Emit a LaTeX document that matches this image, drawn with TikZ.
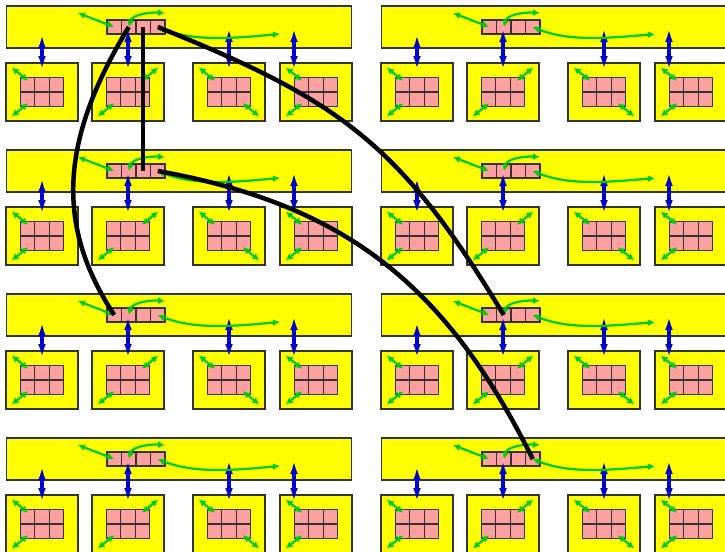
\documentclass[tikz,border=0pt]{standalone}
\usetikzlibrary{arrows.meta,calc,math}
\definecolor{myyellow}{RGB}{255,255,0}
\definecolor{mypink}{RGB}{255,160,160}
\definecolor{mygreen}{RGB}{0,205,0}
\definecolor{myblue}{RGB}{0,0,205}
\tikzset{
  bus/.style={draw=black!80, line width=0.6pt, fill=myyellow, inner sep=0pt,
    minimum width=6.92cm, minimum height=0.84cm},
  board/.style={draw=black!80, line width=0.6pt, fill=myyellow, inner sep=0pt,
    minimum width=1.44cm, minimum height=1.16cm},
  cell/.style={draw=black!80, line width=0.6pt, fill=mypink, inner sep=0pt,
    minimum width=0.29cm, minimum height=0.28cm},
  vlink/.style={myblue, line width=0.09cm,
    {Latex[length=0.3cm,width=0.15cm]}-{Latex[length=0.3cm,width=0.15cm]}},
  glink/.style={mygreen, line width=0.045cm,
    {Latex[length=0.14cm,width=0.14cm]}-{Latex[length=0.14cm,width=0.14cm]}},
  net/.style={black, line width=0.09cm},
}

\begin{document}
\begin{tikzpicture}[x=0.02cm,y=-0.02cm]
\tikzmath{
\dx=375;
\dy=144;
}
\useasboundingbox (0,0) rectangle (725,552);

\foreach \r in {0,...,3}{
\foreach \c in {0,1}{
\begin{scope}[shift={(\dx*\c,\dy*\r)}]
\node[bus] (m\r\c) at (179,27) {};
\foreach \k in {1,...,4}
  \node[cell] (s\r\c-\k) at (99.75+14.5*\k,27) {};
\foreach \j/\x in {1/42,2/128,3/229,4/316}{
  \node[board] (b\r\c-\j) at (\x,92) {};
  \draw[cell] (\x-21.75,77.5) rectangle (\x+21.75,106.5);
  \draw[black!80, line width=0.6pt] (\x-7.25,77.5) -- ++(0,29)
    (\x+7.25,77.5) -- ++(0,29) (\x-21.75,92) -- ++(43.5,0);
}
\foreach \a/\t in {42/33,128/27,229/27,294/27}
  \draw[vlink] (\a,\t) -- (\a,71);
\foreach \j/\ca/\cb in {1/north west/south west,2/north east/south west,
                        3/north west/south east,4/north west/south west}{
  \draw[glink] ($(b\r\c-\j.\ca)!0.17!(b\r\c-\j.center)$) -- ($(b\r\c-\j.\ca)!0.62!(b\r\c-\j.center)$);
  \draw[glink] ($(b\r\c-\j.\cb)!0.17!(b\r\c-\j.center)$) -- ($(b\r\c-\j.\cb)!0.62!(b\r\c-\j.center)$);
}
\draw[glink] (78,13) -- (s\r\c-1.center);
\draw[glink] (s\r\c-2.center) .. controls (132,15) and (148,12) .. (165,13);
\draw[glink] (s\r\c-4.center) .. controls (195,42) and (235,38) .. (280,34);
\end{scope}
}}

% long links
\draw[net] (s00-2.center) .. controls (60,140) and (55,225) .. (s20-1.center);
\draw[net] (s00-3.center) -- (s10-3.center);
\draw[net] (s00-4.center) .. controls (342,101) and (401,145) .. (s21-2.center);
\draw[net] (s10-4.center) .. controls (348,205) and (447,287) .. (s31-4.center);

\end{tikzpicture}
\end{document}
